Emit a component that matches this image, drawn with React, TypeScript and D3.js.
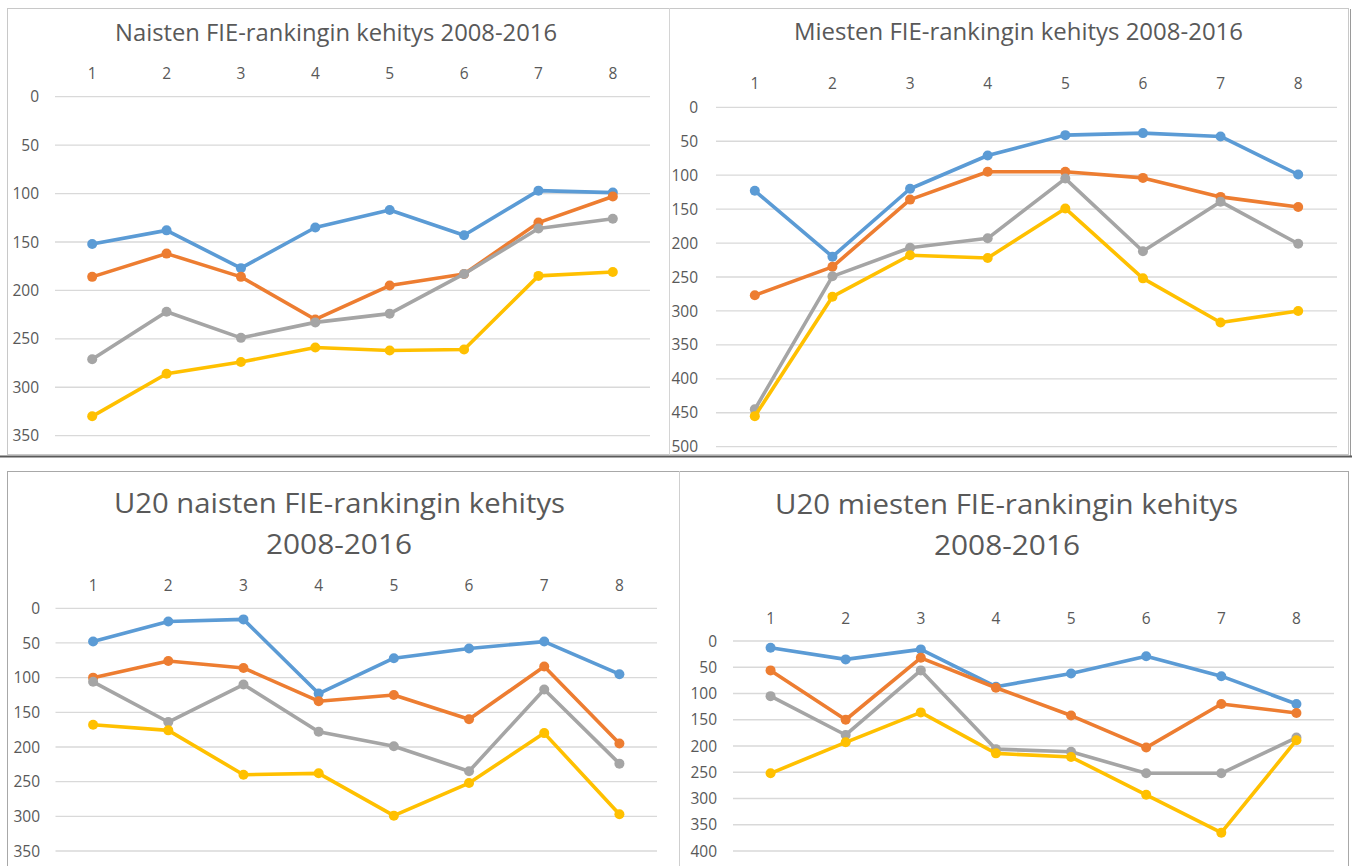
import React, { useRef, useEffect } from "react";
import * as d3 from "d3";

// categories (x axis) and series colours
const xLabels = ["1", "2", "3", "4", "5", "6", "7", "8"];
const seriesColors = ["#5B9BD5", "#ED7D31", "#A5A5A5", "#FFC000"];

// Naisten FIE-ranking 2008-2016
const naisetBlue = [152, 138, 177, 135, 117, 143, 97, 99];
const naisetOrange = [186, 162, 186, 230, 195, 183, 130, 103];
const naisetGray = [271, 222, 249, 233, 224, 183, 136, 126];
const naisetYellow = [330, 286, 274, 259, 262, 261, 185, 181];

// Miesten FIE-ranking 2008-2016
const miehetBlue = [123, 220, 120, 71, 41, 38, 43, 99];
const miehetOrange = [277, 235, 136, 95, 95, 104, 132, 147];
const miehetGray = [445, 249, 207, 193, 105, 212, 139, 201];
const miehetYellow = [455, 279, 218, 222, 149, 252, 317, 300];

// U20 naisten FIE-ranking 2008-2016
const u20NaisetBlue = [48, 19, 16, 123, 72, 58, 48, 95];
const u20NaisetOrange = [100, 76, 86, 134, 125, 160, 84, 195];
const u20NaisetGray = [106, 164, 110, 178, 199, 235, 117, 224];
const u20NaisetYellow = [168, 176, 240, 238, 299, 252, 180, 297];

// U20 miesten FIE-ranking 2008-2016
const u20MiehetBlue = [13, 35, 16, 87, 62, 29, 67, 120];
const u20MiehetOrange = [56, 150, 32, 89, 142, 203, 120, 137];
const u20MiehetGray = [105, 179, 56, 206, 211, 252, 252, 184];
const u20MiehetYellow = [252, 193, 136, 214, 221, 293, 365, 189];

// y-axis tick labels per chart
const ticks350 = [0, 50, 100, 150, 200, 250, 300, 350];
const ticks500 = [0, 50, 100, 150, 200, 250, 300, 350, 400, 450, 500];
const ticks400 = [0, 50, 100, 150, 200, 250, 300, 350, 400];

const panels = [
  {
    title: [{ text: "Naisten FIE-rankingin kehitys 2008-2016", y: 41, x1: 115, x2: 557 }],
    titleSize: 23.4,
    series: [naisetBlue, naisetOrange, naisetGray, naisetYellow],
    ticks: ticks350,
    x: [55, 650],
    y: [96.7, 435.7],
    xLabelY: 73,
    yLabelRight: 39,
  },
  {
    title: [{ text: "Miesten FIE-rankingin kehitys 2008-2016", y: 40, x1: 794, x2: 1243 }],
    titleSize: 23.4,
    series: [miehetBlue, miehetOrange, miehetGray, miehetYellow],
    ticks: ticks500,
    x: [716, 1337],
    y: [107.3, 446.7],
    xLabelY: 83.5,
    yLabelRight: 698,
  },
  {
    title: [
      { text: "U20 naisten FIE-rankingin kehitys", y: 513, x1: 114, x2: 565 },
      { text: "2008-2016", y: 554, x1: 266, x2: 412 },
    ],
    titleSize: 27,
    series: [u20NaisetBlue, u20NaisetOrange, u20NaisetGray, u20NaisetYellow],
    ticks: ticks350,
    x: [55.5, 657],
    y: [608.3, 851],
    xLabelY: 585,
    yLabelRight: 40,
  },
  {
    title: [
      { text: "U20 miesten FIE-rankingin kehitys", y: 514, x1: 775, x2: 1238 },
      { text: "2008-2016", y: 555, x1: 934, x2: 1080 },
    ],
    titleSize: 27,
    series: [u20MiehetBlue, u20MiehetOrange, u20MiehetGray, u20MiehetYellow],
    ticks: ticks400,
    x: [733, 1334],
    y: [641, 851],
    xLabelY: 618,
    yLabelRight: 717,
  },
];

const App = () => {
  const svgRef = useRef();

  useEffect(() => {
    const svg = d3.select(svgRef.current);
    svg.selectAll("*").remove();
    const font = "'Open Sans', 'DejaVu Sans', sans-serif";

    svg.append("rect").attr("width", 1354).attr("height", 866).attr("fill", "#fff");

    // frames around the screenshots
    const frames = svg.append("g").attr("fill", "none");
    frames.append("rect").attr("x", 7.5).attr("y", 8.5).attr("width", 1341).attr("height", 446)
      .attr("stroke", "#c8c8c8");
    frames.append("line").attr("x1", 669.5).attr("x2", 669.5).attr("y1", 8).attr("y2", 455)
      .attr("stroke", "#d4d4d4");
    frames.append("line").attr("x1", 1350.5).attr("x2", 1350.5).attr("y1", 9).attr("y2", 456)
      .attr("stroke", "#9a9a9a");
    frames.append("line").attr("x1", 0).attr("x2", 1352).attr("y1", 456.5).attr("y2", 456.5)
      .attr("stroke", "#5a5a5a").attr("stroke-width", 2);
    frames.append("rect").attr("x", 7.5).attr("y", 471.5).attr("width", 1341).attr("height", 400)
      .attr("stroke", "#a8a8a8");
    frames.append("line").attr("x1", 679.5).attr("x2", 679.5).attr("y1", 471).attr("y2", 866)
      .attr("stroke", "#cfcfcf");

    panels.forEach((p) => {
      const g = svg.append("g");
      const x = d3.scalePoint().domain(xLabels).range(p.x).padding(0.5);
      const y = d3.scaleLinear().domain([0, d3.max(p.ticks)]).range(p.y);

      p.title.forEach((t) =>
        g.append("text")
          .attr("x", t.x1)
          .attr("y", t.y)
          .attr("textLength", t.x2 - t.x1)
          .attr("lengthAdjust", "spacingAndGlyphs")
          .attr("font-family", font)
          .attr("font-size", p.titleSize)
          .attr("fill", "#595959")
          .text(t.text)
      );

      // horizontal gridlines
      g.append("g")
        .selectAll("line")
        .data(p.ticks)
        .join("line")
        .attr("x1", p.x[0])
        .attr("x2", p.x[1])
        .attr("y1", (d) => y(d))
        .attr("y2", (d) => y(d))
        .attr("stroke", "#d9d9d9")
        .attr("stroke-width", 1.3);

      // y tick labels
      g.append("g")
        .selectAll("text")
        .data(p.ticks)
        .join("text")
        .attr("x", p.yLabelRight)
        .attr("y", (d) => y(d))
        .attr("dy", "0.36em")
        .attr("text-anchor", "end")
        .attr("font-family", font)
        .attr("font-size", 15.5)
        .attr("fill", "#595959")
        .text((d) => d);

      // x tick labels (category axis on top)
      g.append("g")
        .selectAll("text")
        .data(xLabels)
        .join("text")
        .attr("x", (d) => x(d))
        .attr("y", p.xLabelY)
        .attr("dy", "0.36em")
        .attr("text-anchor", "middle")
        .attr("font-family", font)
        .attr("font-size", 15.5)
        .attr("fill", "#595959")
        .text((d) => d);

      const line = d3
        .line()
        .x((d, i) => x(xLabels[i]))
        .y((d) => y(d));

      p.series.forEach((values, si) => {
        const s = g.append("g");
        s.append("path")
          .attr("d", line(values))
          .attr("fill", "none")
          .attr("stroke", seriesColors[si])
          .attr("stroke-width", 3.6)
          .attr("stroke-linejoin", "round");
        s.selectAll("circle")
          .data(values)
          .join("circle")
          .attr("cx", (d, i) => x(xLabels[i]))
          .attr("cy", (d) => y(d))
          .attr("r", 5)
          .attr("fill", seriesColors[si]);
      });
    });
  }, []);

  return (
    <svg
      ref={svgRef}
      width="1354"
      height="866"
      style={{ position: "absolute", left: 0, top: 0, display: "block" }}
    ></svg>
  );
};

export default App;
